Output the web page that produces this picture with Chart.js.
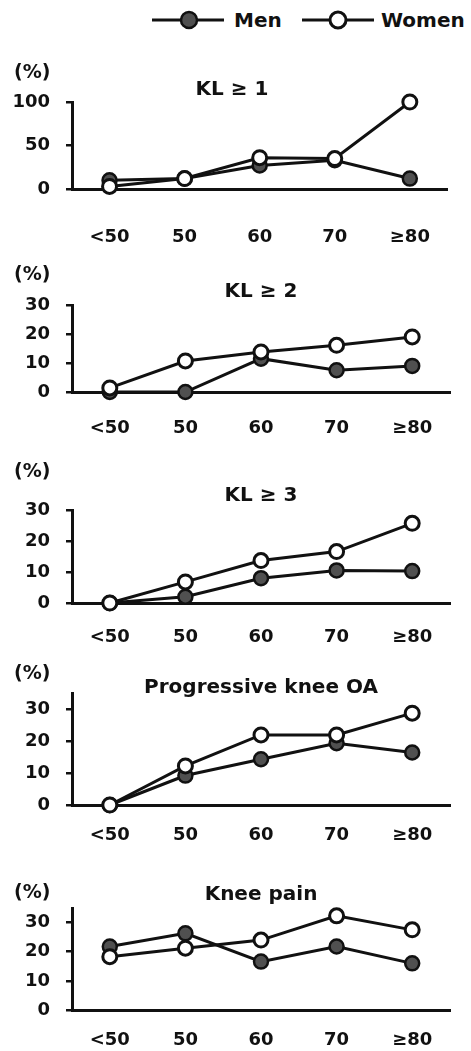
<!DOCTYPE html>
<html>
<head>
<meta charset="utf-8">
<script src="https://cdn.jsdelivr.net/npm/chart.js@4"></script>
<style>
  body { margin: 0; background: #fff; }
  #wrap { position: relative; width: 471px; height: 1051px; font-family: "DejaVu Sans", sans-serif; }
  #wrap canvas { position: absolute; left: 0; }
  .leg { position: absolute; top: 8px; font-weight: bold; font-size: 20px; line-height: 24px; color: #111; }
  .leg svg { position: absolute; top: 2px; }
</style>
</head>
<body>
<div id="wrap">
  <div class="leg" style="left:152px">
    <svg width="72" height="20"><line x1="0" y1="10" x2="72" y2="10" stroke="#111" stroke-width="3"/><circle cx="37" cy="10" r="8" fill="#505050" stroke="#111" stroke-width="2.5"/></svg>
  </div>
  <div class="leg" style="left:234px">Men</div>
  <div class="leg" style="left:302px">
    <svg width="72" height="20"><line x1="0" y1="10" x2="72" y2="10" stroke="#111" stroke-width="3"/><circle cx="36" cy="10" r="8" fill="#fff" stroke="#111" stroke-width="3"/></svg>
  </div>
  <div class="leg" style="left:381px">Women</div>
</div>
<script>
const categories = ['<50', '50', '60', '70', '≥80'];
const panelTitles = ['KL ≥ 1', 'KL ≥ 2', 'KL ≥ 3', 'Progressive knee OA', 'Knee pain'];

const menKL1 = [10, 12, 27, 33, 12];
const womenKL1 = [3, 12, 36, 35, 100];
const menKL2 = [0, 0, 11.5, 7.5, 9];
const womenKL2 = [1.4, 10.7, 13.8, 16.1, 19];
const menKL3 = [0, 2, 8, 10.5, 10.3];
const womenKL3 = [0, 6.8, 13.7, 16.6, 25.7];
const menProg = [0, 9.2, 14.3, 19.3, 16.4];
const womenProg = [0, 12.2, 21.9, 21.9, 28.7];
const menPain = [21.8, 26.3, 16.6, 21.8, 16];
const womenPain = [18.3, 21.2, 24, 32.3, 27.5];

const yMax = [100, 30, 30, 35, 35];
const yStep = [50, 10, 10, 10, 10];
const yTickTop = [100, 30, 30, 30, 30];

const menSeries = [menKL1, menKL2, menKL3, menProg, menPain];
const womenSeries = [womenKL1, womenKL2, womenKL3, womenProg, womenPain];

// canvas placement + paddings for each panel
const layout = [
  { top: 60,  h: 186, tpt: 3.5, spt: -2.5, spb: 2,  xpad: 39, full: true },
  { top: 262, h: 175, tpt: 3.5, spt: -2.5, spb: 3,  xpad: 27, full: false },
  { top: 459, h: 187, tpt: 3.5, spt: 4.5,  spb: 4,  xpad: 25, full: false },
  { top: 661, h: 183, tpt: 3.5, spt: -5.5, spb: -5, xpad: 21, full: false },
  { top: 880, h: 169, tpt: 3.5, spt: -17.5, spb: 3, xpad: 21, full: false }
];

const ink = '#111';
const font = (size) => ({ family: 'DejaVu Sans', weight: 'bold', size: size, lineHeight: 1 });

const wrap = document.getElementById('wrap');

panelTitles.forEach((title, i) => {
  const L = layout[i];
  const cv = document.createElement('canvas');
  cv.style.top = L.top + 'px';
  cv.style.width = '471px';
  cv.style.height = L.h + 'px';
  cv.width = 471;
  cv.height = L.h;
  wrap.appendChild(cv);

  new Chart(cv, {
    type: 'line',
    data: {
      labels: categories,
      datasets: [
        {
          label: 'Men',
          data: menSeries[i],
          order: 1,
          borderColor: ink,
          borderWidth: 3,
          pointRadius: 7,
          pointBorderWidth: 2.5,
          pointBackgroundColor: '#505050',
          pointBorderColor: ink,
          clip: false
        },
        {
          label: 'Women',
          data: womenSeries[i],
          order: 0,
          borderColor: ink,
          borderWidth: 3,
          pointRadius: 7,
          pointBorderWidth: 3,
          pointBackgroundColor: '#fff',
          pointBorderColor: ink,
          clip: false
        }
      ]
    },
    options: {
      responsive: false,
      animation: false,
      devicePixelRatio: 1,
      layout: { padding: { left: 14, right: 21, top: 0, bottom: 0 } },
      plugins: {
        legend: { display: false },
        tooltip: { enabled: false },
        title: {
          display: true,
          text: '(%)',
          align: 'start',
          color: ink,
          font: font(19),
          padding: { top: L.tpt, bottom: 0 }
        },
        subtitle: {
          display: true,
          text: title,
          align: 'center',
          fullSize: L.full,
          color: ink,
          font: font(20),
          padding: { top: L.spt, bottom: L.spb }
        }
      },
      scales: {
        x: {
          offset: true,
          afterFit: (scale) => { scale.height = L.xpad + 18; },
          grid: { display: true, drawOnChartArea: false, drawTicks: false },
          border: { display: true, color: ink, width: 3 },
          ticks: { color: ink, font: font(18), padding: L.xpad, maxRotation: 0, autoSkip: false }
        },
        y: {
          min: 0,
          max: yMax[i],
          afterBuildTicks: (scale) => {
            scale.ticks = scale.ticks.filter(t => t.value <= yTickTop[i]);
          },
          afterFit: (scale) => { scale.width = 58; },
          grid: { display: true, drawOnChartArea: false, drawTicks: true, tickLength: 6, color: ink, lineWidth: 2.5 },
          border: { display: true, color: ink, width: 3 },
          ticks: { stepSize: yStep[i], includeBounds: false, autoSkip: false, color: ink, font: font(18), padding: 16 }
        }
      }
    }
  });
});
</script>
</body>
</html>
